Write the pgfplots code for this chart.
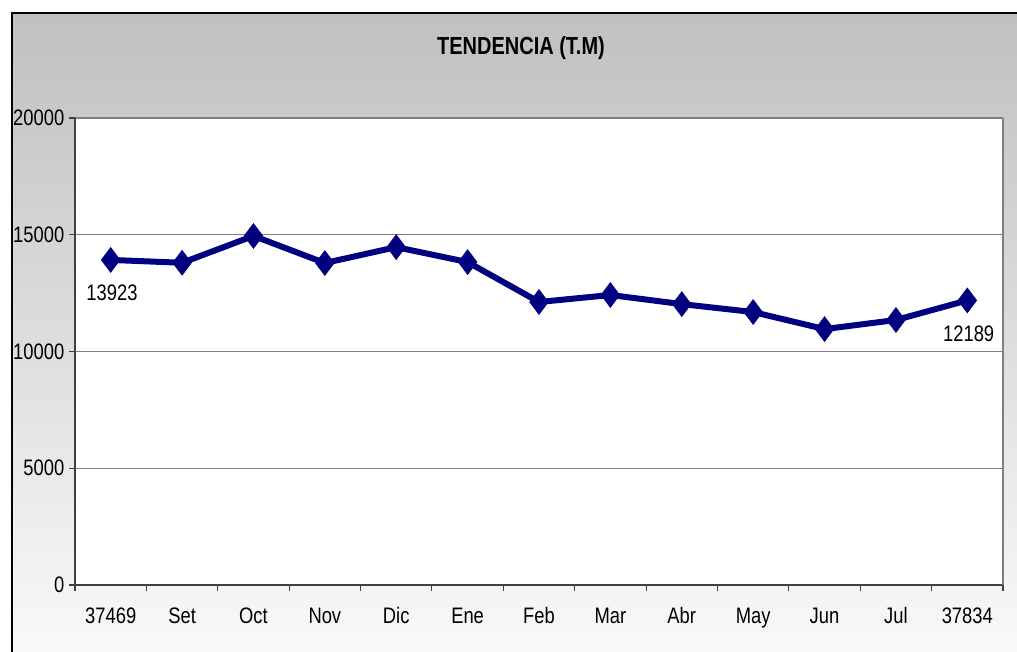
\documentclass[border=0pt]{standalone}
\usepackage{pgfplots}
\pgfplotsset{compat=1.18}
\usepackage{fontspec}
\setmainfont{Liberation Sans}
\newfontfamily\condfont[FakeStretch=0.82]{Liberation Sans}
\newfontfamily\titlefont[FakeStretch=0.81]{Liberation Sans}
\definecolor{navyline}{HTML}{000080}
\definecolor{gridgray}{HTML}{808080}
\definecolor{bgtop}{HTML}{C0C0C0}
\definecolor{bgbot}{HTML}{FAFAFA}
\begin{document}
\begin{tikzpicture}
\useasboundingbox (0,0) rectangle (762.75pt,-488.25pt);
\begin{scope}
\clip (0,0) rectangle (762.75pt,-488.25pt);
\shade[top color=bgtop, bottom color=bgbot] (9pt,-9.75pt) rectangle (770pt,-495pt);
\draw[black, line width=0.9pt] (9pt,-495pt) -- (9pt,-9.75pt) -- (770pt,-9.75pt);
\end{scope}
\node[font=\titlefont\fontsize{18.5}{20}\selectfont\bfseries] at (390.75pt,-36pt) {TENDENCIA (T.M)};
\begin{axis}[
  at={(56.25pt,-438.75pt)}, anchor=south west,
  scale only axis, width=696pt, height=350.25pt,
  xmin=-0.5, xmax=12.5, ymin=0, ymax=20000,
  axis background/.style={fill=white},
  axis x line*=bottom, axis y line*=left,
  axis line style={black!75, line width=0.8pt},
  ytick={0,5000,10000,15000,20000},
  ymajorgrids, grid style={gridgray, line width=0.8pt},
  xtick={-0.5,0.5,1.5,2.5,3.5,4.5,5.5,6.5,7.5,8.5,9.5,10.5,11.5,12.5},
  x tick label as interval,
  xticklabels={37469,Set,Oct,Nov,Dic,Ene,Feb,Mar,Abr,May,Jun,Jul,37834},
  tick align=outside, major tick length=4.5pt,
  tick style={black!75, line width=0.8pt},
  ticklabel style={font=\condfont\fontsize{16.8}{18}\selectfont},
  /pgf/number format/assume math mode=true,
  scaled y ticks=false,
  yticklabel style={/pgf/number format/1000 sep={}},
  xticklabel style={yshift=-9pt},
  clip=false,
]
\draw[gridgray, line width=0.8pt] (rel axis cs:1,0) -- (rel axis cs:1,1);
\addplot[navyline, line width=4.5pt, mark=diamond*, mark size=9.3pt,
  mark options={solid, fill=navyline, draw=navyline, line width=0.5pt}]
  coordinates {
  (0,13923) (1,13800) (2,14950) (3,13790) (4,14470) (5,13830) (6,12120)
  (7,12420) (8,12030) (9,11690) (10,10960) (11,11350) (12,12189)
  };
\addplot[draw=none, mark=none, nodes near coords, point meta=y,
  /pgf/number format/.cd, fixed, precision=0, 1000 sep={}, assume math mode=true, /pgfplots/.cd,
  every node near coord/.append style={anchor=center, yshift=-24.75pt, xshift=1pt, font=\condfont\fontsize{16.8}{18}\selectfont, text=black}]
  coordinates {(0,13923) (12,12189)};
\end{axis}
\end{tikzpicture}
\end{document}
